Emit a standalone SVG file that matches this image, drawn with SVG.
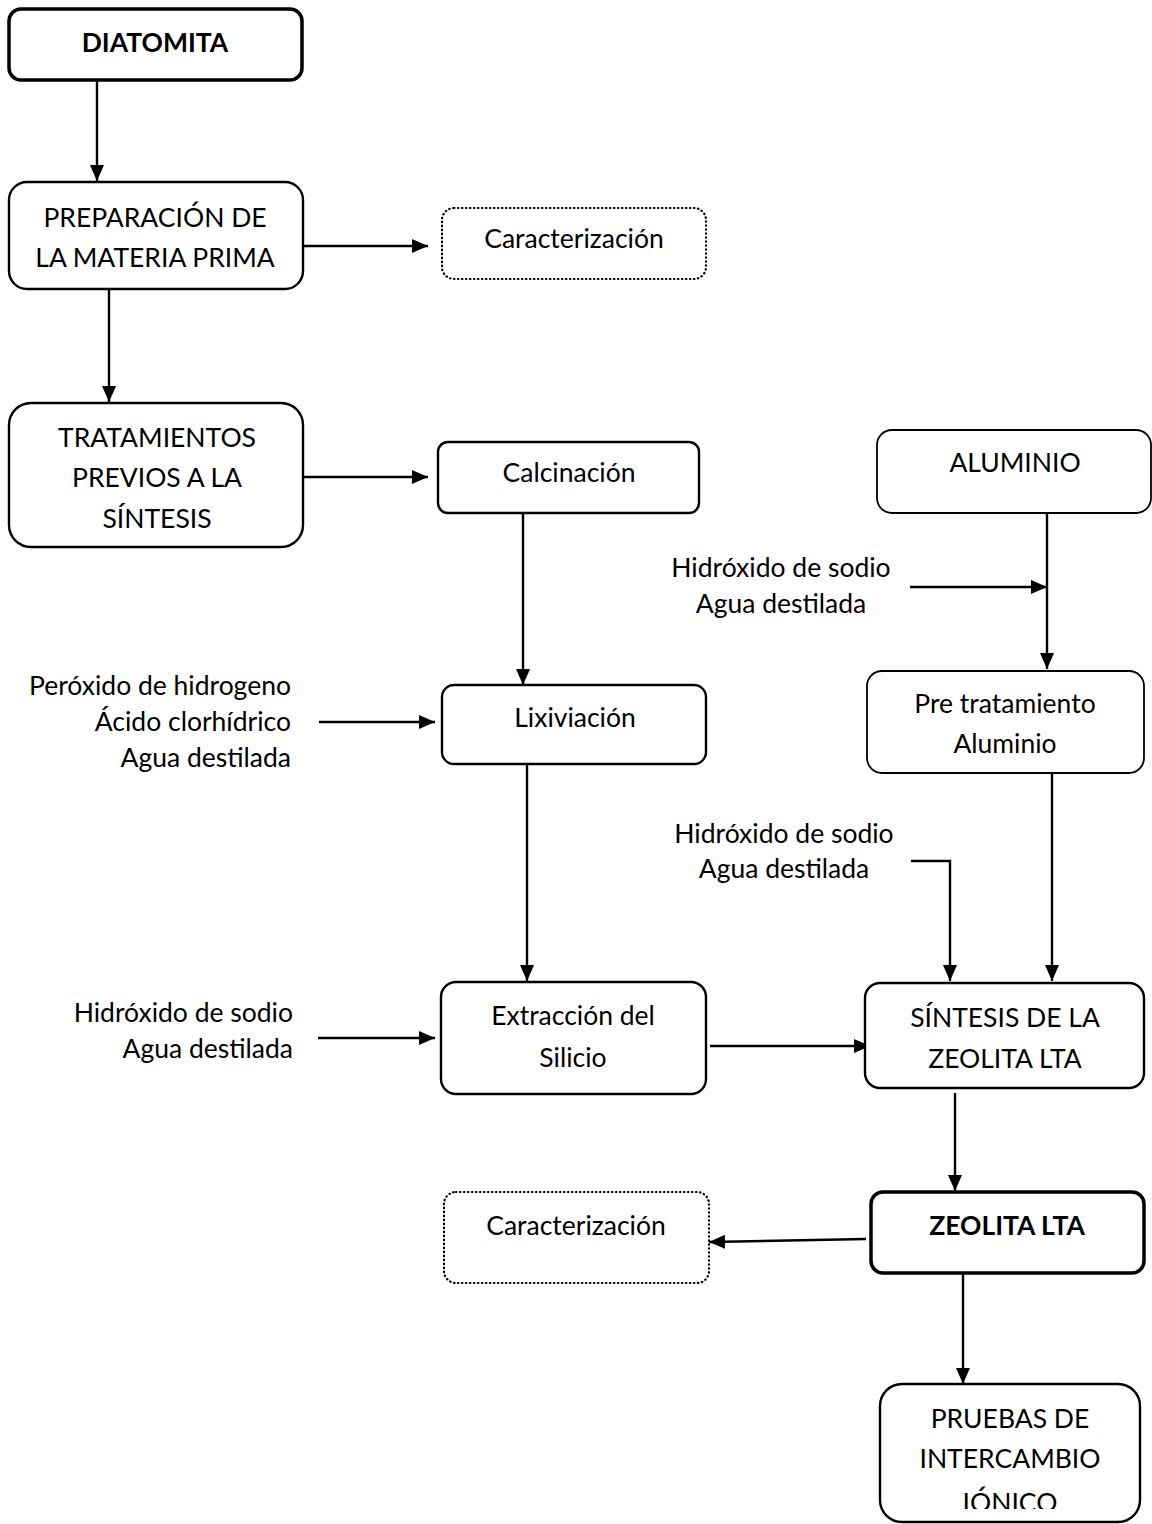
<svg xmlns="http://www.w3.org/2000/svg" width="1152" height="1524" viewBox="0 0 1152 1524">
<style>
.box{fill:#fff;stroke:#000;stroke-width:2.4}
.thin{fill:#fff;stroke:#000;stroke-width:1.8}
.bold{fill:#fff;stroke:#000;stroke-width:3.5}
.dot{fill:#fff;stroke:#000;stroke-width:2.2;stroke-dasharray:0.5 3.5;stroke-linecap:round}
text{font-family:Lato,"Liberation Sans",sans-serif;font-size:26.5px;fill:#000}
.c{text-anchor:middle}
.r{text-anchor:end}
.b{font-weight:bold}
.ln{fill:none;stroke:#000;stroke-width:2.4}
</style>
<defs>
<marker id="ah" markerUnits="userSpaceOnUse" markerWidth="18" markerHeight="16" refX="16" refY="7" orient="auto">
<path d="M0,0 L16,7 L0,14 z" fill="#000"/>
</marker>
<clipPath id="clipP"><rect x="880" y="1384" width="260" height="125"/></clipPath>
</defs>
<rect width="1152" height="1524" fill="#fff"/>

<g id="connectors">
<line class="ln" x1="97" y1="81" x2="97" y2="181" marker-end="url(#ah)"/>
<line class="ln" x1="303" y1="246" x2="428" y2="246" marker-end="url(#ah)"/>
<line class="ln" x1="109" y1="290" x2="109" y2="402" marker-end="url(#ah)"/>
<line class="ln" x1="303" y1="477" x2="428" y2="477" marker-end="url(#ah)"/>
<line class="ln" x1="523" y1="513" x2="523" y2="685" marker-end="url(#ah)"/>
<line class="ln" x1="319" y1="722" x2="435" y2="722" marker-end="url(#ah)"/>
<line class="ln" x1="527" y1="764" x2="527" y2="981" marker-end="url(#ah)"/>
<line class="ln" x1="318" y1="1038" x2="435" y2="1038" marker-end="url(#ah)"/>
<line class="ln" x1="1047" y1="513" x2="1047" y2="669" marker-end="url(#ah)"/>
<line class="ln" x1="910" y1="587" x2="1047" y2="587" marker-end="url(#ah)"/>
<line class="ln" x1="1052" y1="773" x2="1052" y2="981" marker-end="url(#ah)"/>
<polyline class="ln" points="911,861 950,861 950,981" marker-end="url(#ah)"/>
<line class="ln" x1="710" y1="1046" x2="870" y2="1046" marker-end="url(#ah)"/>
<line class="ln" x1="955" y1="1093" x2="955" y2="1191" marker-end="url(#ah)"/>
<line class="ln" x1="866" y1="1239" x2="709" y2="1242" marker-end="url(#ah)"/>
<line class="ln" x1="963" y1="1273" x2="963" y2="1384" marker-end="url(#ah)"/>
</g>

<g id="diatomita">
<rect class="bold" x="9" y="9" width="293" height="71" rx="12"/>
<text class="c b" x="155" y="52">DIATOMITA</text>
</g>

<g id="preparacion">
<rect class="box" x="9" y="182" width="294" height="107" rx="18"/>
<text class="c" x="155" y="227">PREPARACIÓN DE</text>
<text class="c" x="155" y="267">LA MATERIA PRIMA</text>
</g>

<g id="caracterizacion1">
<rect class="dot" x="442" y="208" width="264" height="71" rx="12"/>
<text class="c" x="574" y="248">Caracterización</text>
</g>

<g id="tratamientos">
<rect class="box" x="9" y="403" width="294" height="144" rx="22"/>
<text class="c" x="157" y="447">TRATAMIENTOS</text>
<text class="c" x="157" y="487">PREVIOS A LA</text>
<text class="c" x="157" y="528">SÍNTESIS</text>
</g>

<g id="calcinacion">
<rect class="box" x="438" y="442" width="261" height="71" rx="10"/>
<text class="c" x="569" y="482">Calcinación</text>
</g>

<g id="aluminio">
<rect class="thin" x="877" y="430" width="274" height="83" rx="15"/>
<text class="c" x="1015" y="472">ALUMINIO</text>
</g>

<g id="label-al1">
<text class="c" x="781" y="577">Hidróxido de sodio</text>
<text class="c" x="781" y="613">Agua destilada</text>
</g>

<g id="pretratamiento">
<rect class="thin" x="867" y="671" width="277" height="102" rx="15"/>
<text class="c" x="1005" y="713">Pre tratamiento</text>
<text class="c" x="1005" y="753">Aluminio</text>
</g>

<g id="label-lix">
<text class="r" x="291" y="695">Peróxido de hidrogeno</text>
<text class="r" x="291" y="731">Ácido clorhídrico</text>
<text class="r" x="291" y="767">Agua destilada</text>
</g>

<g id="lixiviacion">
<rect class="box" x="442" y="685" width="264" height="79" rx="12"/>
<text class="c" x="575" y="727">Lixiviación</text>
</g>

<g id="label-al2">
<text class="c" x="784" y="843">Hidróxido de sodio</text>
<text class="c" x="784" y="878">Agua destilada</text>
</g>

<g id="label-ext">
<text class="r" x="293" y="1022">Hidróxido de sodio</text>
<text class="r" x="293" y="1058">Agua destilada</text>
</g>

<g id="extraccion">
<rect class="box" x="441" y="982" width="265" height="112" rx="15"/>
<text class="c" x="573" y="1025">Extracción del</text>
<text class="c" x="573" y="1067">Silicio</text>
</g>

<g id="sintesis">
<rect class="box" x="865" y="983" width="279" height="105" rx="15"/>
<text class="c" x="1005" y="1027">SÍNTESIS DE LA</text>
<text class="c" x="1005" y="1068">ZEOLITA LTA</text>
</g>

<g id="caracterizacion2">
<rect class="dot" x="444" y="1192" width="265" height="91" rx="12"/>
<text class="c" x="576" y="1235">Caracterización</text>
</g>

<g id="zeolita">
<rect class="bold" x="871" y="1192" width="273" height="81" rx="12"/>
<text class="c b" x="1007" y="1235">ZEOLITA LTA</text>
</g>

<g id="pruebas">
<rect class="box" x="880" y="1384" width="260" height="138" rx="22"/>
<g clip-path="url(#clipP)">
<text class="c" x="1010" y="1428">PRUEBAS DE</text>
<text class="c" x="1010" y="1468">INTERCAMBIO</text>
<text class="c" x="1010" y="1512">IÓNICO</text>
</g>
</g>
</svg>
